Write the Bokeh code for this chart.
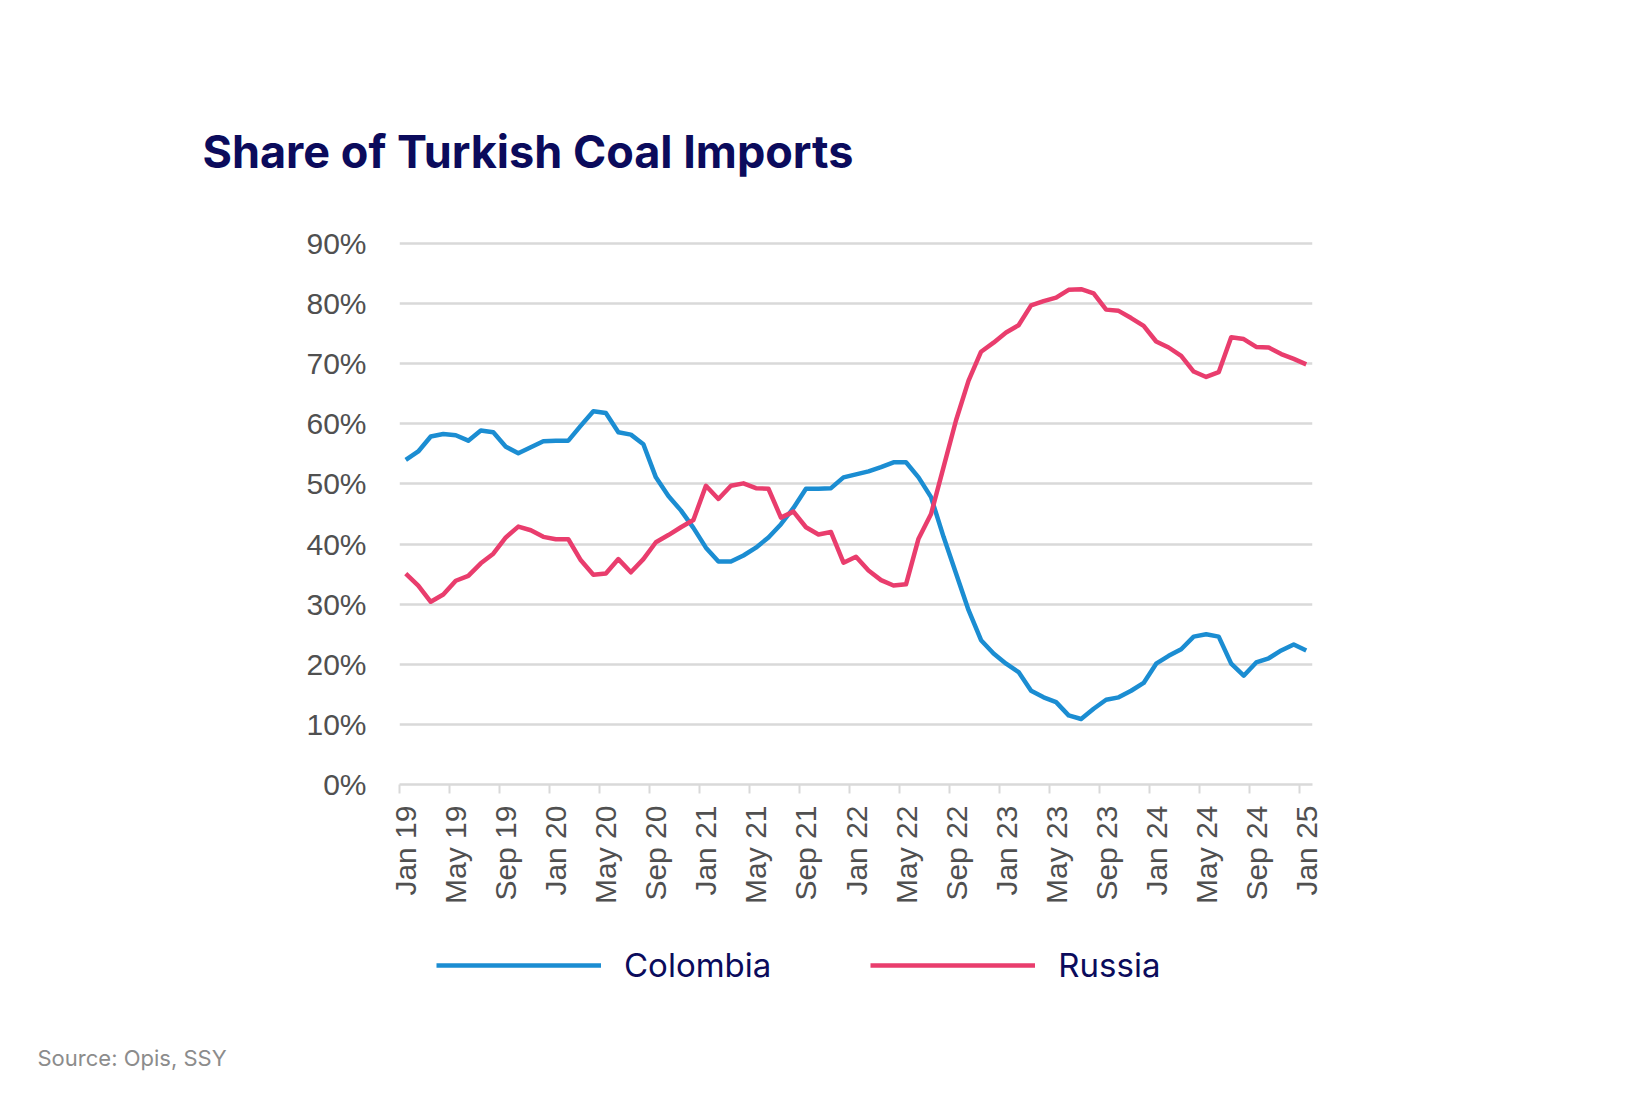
import math
from bokeh.plotting import figure
from bokeh.layouts import column
from bokeh.models import (FixedTicker, PrintfTickFormatter, Range1d,
                          Legend, LegendItem)
from bokeh.core.properties import value
from bokeh.embed import file_html
from bokeh.resources import INLINE

# ---------------- data ----------------
month_names = ["Jan", "Feb", "Mar", "Apr", "May", "Jun",
               "Jul", "Aug", "Sep", "Oct", "Nov", "Dec"]
years = ["19", "20", "21", "22", "23", "24"]
months = [f"{m} {y}" for y in years for m in month_names] + ["Jan 25"]

colombia = [54.0, 55.4, 57.9, 58.3, 58.1, 57.2, 58.9, 58.6, 56.2, 55.1, 56.1, 57.1,
            57.2, 57.2, 59.7, 62.1, 61.8, 58.6, 58.2, 56.6, 51.1, 48.0, 45.6, 42.7,
            39.4, 37.1, 37.1, 38.1, 39.4, 41.1, 43.3, 46.0, 49.2, 49.2, 49.3, 51.1,
            51.6, 52.1, 52.8, 53.6, 53.6, 51.1, 47.8, 41.2, 35.1, 29.0, 24.0, 21.8,
            20.1, 18.7, 15.6, 14.5, 13.7, 11.5, 10.9, 12.6, 14.1, 14.5, 15.6, 16.9,
            20.1, 21.4, 22.5, 24.6, 25.0, 24.6, 20.1, 18.1, 20.3, 21.0, 22.3, 23.3,
            22.3]

russia = [35.1, 33.1, 30.4, 31.6, 33.9, 34.7, 36.8, 38.4, 41.1, 42.9, 42.3, 41.2,
          40.8, 40.8, 37.3, 34.9, 35.1, 37.5, 35.3, 37.5, 40.3, 41.5, 42.8, 44.0,
          49.7, 47.5, 49.7, 50.1, 49.3, 49.2, 44.4, 45.4, 42.8, 41.6, 42.0, 36.9,
          37.9, 35.6, 34.0, 33.1, 33.3, 40.9, 45.0, 52.8, 60.6, 67.2, 72.0, 73.5,
          75.2, 76.4, 79.7, 80.4, 81.0, 82.3, 82.4, 81.7, 79.0, 78.8, 77.6, 76.3,
          73.7, 72.7, 71.3, 68.7, 67.8, 68.6, 74.4, 74.1, 72.8, 72.7, 71.6, 70.8,
          69.9]

tick_labels = ["Jan 19", "May 19", "Sep 19", "Jan 20", "May 20", "Sep 20",
               "Jan 21", "May 21", "Sep 21", "Jan 22", "May 22", "Sep 22",
               "Jan 23", "May 23", "Sep 23", "Jan 24", "May 24", "Sep 24",
               "Jan 25"]
y_ticks = [0, 10, 20, 30, 40, 50, 60, 70, 80, 90]
series_names = ["Colombia", "Russia"]
title_text = "Share of Turkish Coal Imports"
source_text = "Source: Opis, SSY"

x = list(range(len(months)))
tick_pos = [months.index(t) for t in tick_labels]

# ---------------- style ----------------
NAVY = "#0b0b5c"
BLUE = "#1b8dd2"
PINK = "#e93d6d"
GRID = "#d9d9d9"
AXIS_TXT = "#505050"
W = 1629
LW = 4.5

# ---------------- header (title) ----------------
H1 = 220
head = figure(width=W, height=H1, x_range=Range1d(0, W), y_range=Range1d(0, H1),
              x_axis_type=None, y_axis_type=None, min_border=0,
              output_backend="svg", toolbar_location=None,
              outline_line_color=None, background_fill_color="white",
              border_fill_color="white", frame_align=False)
head.grid.visible = False
head.text(x=[202], y=[H1 - 151], text=[title_text], text_font=value("Inter"),
          text_font_style="bold", text_font_size="45px", text_color=NAVY,
          text_baseline="alphabetic", text_align="left")

# ---------------- main chart ----------------
p = figure(frame_width=913, frame_height=544,
           x_range=Range1d(-0.5, len(months) - 0.5), y_range=Range1d(0, 90.5),
           output_backend="svg", toolbar_location=None,
           min_border_left=399, min_border_right=W - 399 - 913,
           min_border_top=20, min_border_bottom=130,
           background_fill_color="white", border_fill_color="white",
           outline_line_color=None)

p.yaxis.ticker = FixedTicker(ticks=y_ticks)
p.yaxis.formatter = PrintfTickFormatter(format="%d%%")
p.yaxis.axis_line_color = None
p.yaxis.major_tick_line_color = None
p.yaxis.minor_tick_line_color = None
p.yaxis.major_label_standoff = 27
p.yaxis.major_label_text_font = "Liberation Sans"
p.yaxis.major_label_text_font_size = "30px"
p.yaxis.major_label_text_color = AXIS_TXT

p.ygrid.ticker = FixedTicker(ticks=y_ticks[1:])
p.ygrid.grid_line_color = GRID
p.ygrid.grid_line_width = 2.5
p.xgrid.grid_line_color = None

p.xaxis.ticker = FixedTicker(ticks=tick_pos, minor_ticks=[t - 0.5 for t in tick_pos])
p.xaxis.major_label_overrides = {t: lab for t, lab in zip(tick_pos, tick_labels)}
p.xaxis.major_tick_line_color = None
p.xaxis.major_tick_out = 0
p.xaxis.major_tick_in = 0
p.xaxis.minor_tick_out = 9
p.xaxis.minor_tick_in = 0
p.xaxis.minor_tick_line_color = GRID
p.xaxis.minor_tick_line_width = 2
p.xaxis.axis_line_color = GRID
p.xaxis.axis_line_width = 2.5
p.xaxis.major_label_orientation = math.pi / 2
p.xaxis.major_label_standoff = 12
p.xaxis.major_label_text_font = "Liberation Sans"
p.xaxis.major_label_text_font_size = "30px"
p.xaxis.major_label_text_color = AXIS_TXT

p.line(x, colombia, line_color=BLUE, line_width=LW, line_join="round")
p.line(x, russia, line_color=PINK, line_width=LW, line_join="round")

# ---------------- footer (legend + source) ----------------
H3 = 1081 - H1 - (20 + 544 + 130)
foot = figure(width=W, height=H3, x_range=Range1d(0, W), y_range=Range1d(0, H3),
              x_axis_type=None, y_axis_type=None, min_border=0,
              output_backend="svg", toolbar_location=None,
              outline_line_color=None, background_fill_color="white",
              border_fill_color="white", frame_align=False)
foot.grid.visible = False
nan = float("nan")
lr1 = foot.line(x=[nan], y=[nan], line_color=BLUE, line_width=LW)
lr2 = foot.line(x=[nan], y=[nan], line_color=PINK, line_width=LW)
legend = Legend(items=[LegendItem(label=series_names[0], renderers=[lr1]),
                       LegendItem(label=series_names[1], renderers=[lr2])],
                orientation="horizontal", location=(436, H3 - 71),
                glyph_width=165, glyph_height=40, label_height=40,
                label_standoff=23, spacing=99, padding=0, margin=0,
                border_line_color=None, background_fill_alpha=0,
                label_text_font="Inter", label_text_font_size="33px",
                label_text_color=NAVY, label_text_baseline="middle")
foot.add_layout(legend)
foot.text(x=[37], y=[H3 - 143], text=[source_text], text_font=value("Inter"),
          text_font_size="22px", text_color="#8c8c8c",
          text_baseline="alphabetic", text_align="left")

layout = column(head, p, foot, spacing=0)
open("out.html", "w").write(file_html(layout, INLINE))
